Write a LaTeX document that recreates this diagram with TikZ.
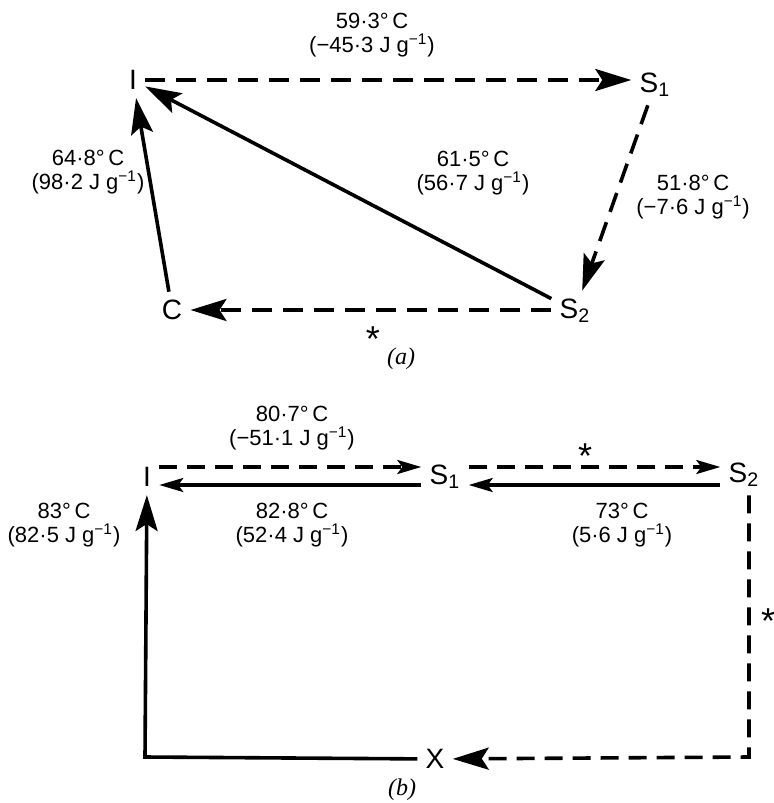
\documentclass[tikz,border=0pt]{standalone}
\usepackage{fontspec}
\setmainfont{Liberation Sans}
\newfontfamily\capfont{Liberation Serif}
\usetikzlibrary{arrows.meta,positioning}

\begin{document}
\begin{tikzpicture}[
    x=0.5pt, y=-0.5pt,
    font=\fontsize{11}{12}\selectfont,
    >={Stealth[length=18pt,width=11pt,inset=3.5pt]},
    state/.style={font=\fontsize{14}{15}\selectfont, inner sep=4pt},
    lab/.style={align=center, inner sep=1pt},
    star/.style={font=\fontsize{18}{19}\selectfont, inner sep=1pt},
    caption/.style={font=\capfont\itshape\fontsize{12}{13}\selectfont, inner sep=1pt},
    solidarrow/.style={->, line width=1.8pt},
    dasharrow/.style={->, line width=1.8pt, dash pattern=on 10pt off 5.5pt},
    thin head/.style={-{Stealth[length=12pt,width=7pt,inset=2.5pt]}, line width=1.6pt}
]
\useasboundingbox (0,0) rectangle (774,803);
% (a)
\node[state] (Ia) at (133,80) {I};
\node[state] (S1a) at (655,85) {S\textsubscript{1}};
\node[state] (S2a) at (575,311) {S\textsubscript{2}};
\node[state] (Ca) at (172,310) {C};
\draw[dasharrow] (Ia) -- (Ia -| S1a.west);
\draw[dasharrow] (S1a) -- (S2a);
\draw[solidarrow] (S2a) -- (Ia);
\draw[solidarrow] (Ca) -- (Ia);
\draw[dasharrow] (S2a.west |- Ca) -- (Ca);
\node[lab] (la1) at (372,35) {59·3°\,C\\(−45·3 J g\textsuperscript{−1})};
\node[lab] (la2) at (693,197) {51·8°\,C\\(−7·6 J g\textsuperscript{−1})};
\node[lab] (la3) at (473,173) {61·5°\,C\\(56·7 J g\textsuperscript{−1})};
\node[lab] (la4) at (88,172) {64·8°\,C\\(98·2 J g\textsuperscript{−1})};
\node[star] (sa) at (373,339) {*};
\node[caption] (capa) at (401,359) {(a)};
% (b)
\node[state] (Ib) at (147,477) {I};
\node[state] (S1b) at (445,477) {S\textsubscript{1}};
\node[state] (S2b) at (744,475) {S\textsubscript{2}};
\node[state] (Xb) at (435,759) {X};
\coordinate (cr) at (749,757);
\coordinate (cl) at (145,757);
\draw[thin head, dash pattern=on 9pt off 5pt] ([yshift=5pt]Ib.east) -- ([yshift=5pt]Ib.east -| S1b.west);
\draw[thin head] ([yshift=-4pt]S1b.west) -- ([yshift=-4pt]S1b.west -| Ib.east);
\draw[thin head, dash pattern=on 9pt off 5pt] ([yshift=5pt]Ib.east -| S1b.east) -- ([yshift=5pt]Ib.east -| S2b.west);
\draw[thin head] ([yshift=-4pt]S1b.west -| S2b.west) -- ([yshift=-4pt]S1b.west -| S1b.east);
\draw[dasharrow, dash pattern=on 9pt off 5pt] (S2b.south -| cr) -- (cr) -- (Xb);
\draw[solidarrow] (Xb) -- (cl) -- (Ib);
\node[lab] (lb1) at (292,428) {80·7°\,C\\(−51·1 J g\textsuperscript{−1})};
\node[lab] (lb2) at (292,525) {82·8°\,C\\(52·4 J g\textsuperscript{−1})};
\node[lab] (lb3) at (622,525) {73°\,C\\(5·6 J g\textsuperscript{−1})};
\node[lab] (lb4) at (64,525) {83°\,C\\(82·5 J g\textsuperscript{−1})};
\node[star] (sb1) at (585,456) {*};
\node[star] (sb2) at (768,621) {*};
\node[caption] (capb) at (402,790) {(b)};
\end{tikzpicture}
\end{document}
